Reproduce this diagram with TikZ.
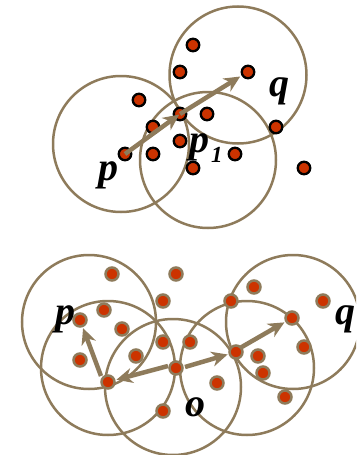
\documentclass[tikz,border=0pt]{standalone}
\usepackage{fontspec}
\setmainfont{Liberation Serif}
\usetikzlibrary{arrows.meta}
\definecolor{ring}{HTML}{8E7B5B}
\definecolor{dotred}{HTML}{CC3300}
\tikzset{
  ring/.style={draw=ring, line width=2.5pt},
  tdot/.style={circle, fill=dotred, draw=black, line width=2.3pt, inner sep=0pt, minimum size=12.5pt},
  bdot/.style={circle, fill=dotred, draw=ring, line width=2.5pt, inner sep=0pt, minimum size=13pt},
  link/.style={draw=ring, line width=4.5pt, -{Stealth[length=16pt,width=15pt,inset=5pt]}, shorten >=1pt},
  lbl/.style={font=\fontsize{40}{40}\selectfont\bfseries\itshape, inner sep=0pt}
}
\begin{document}
\begin{tikzpicture}[x=1pt,y=-1pt]
\useasboundingbox (0,0) rectangle (356,455);
\clip (0,0) rectangle (356,455);
% top circles
\draw[ring] (121,144) circle (68);
\draw[ring] (208,160) circle (68);
\draw[ring] (238,75) circle (68.5);
% top points
\node[tdot] (t1) at (193,45) {};
\node[tdot] (t2) at (180,72) {};
\node[tdot] (tq) at (248,72) {};
\node[tdot] (t4) at (139,100) {};
\node[tdot] (tp1) at (180,114) {};
\node[tdot] (t6) at (207,114) {};
\node[tdot] (t7) at (153,127) {};
\node[tdot] (t8) at (276,127) {};
\node[tdot] (t9) at (180,141) {};
\node[tdot] (tp) at (125,154) {};
\node[tdot] (t11) at (153,154) {};
\node[tdot] (t12) at (235,154) {};
\node[tdot] (t13) at (193,168) {};
\node[tdot] (t14) at (304,168) {};
\draw[link] (tp.center) -- (tp1.center);
\draw[link] (tp1.center) -- ([shift={(-7,4)}]tq.center);
\node[lbl] (lp) at (108,175) {p};
\node[lbl] (lq) at (279,91) {q};
\node[lbl, anchor=base west] (lp1) at (189,152) {p\hspace{2pt}\raisebox{-10pt}{\fontsize{23}{23}\selectfont 1}};
% bottom circles
\draw[ring] (89,322) circle (67);
\draw[ring] (108,368) circle (67);
\draw[ring] (173,387) circle (68);
\draw[ring] (247,368) circle (67);
\draw[ring] (293,322) circle (67);
% bottom points
\node[bdot] (b1) at (112,274) {};
\node[bdot] (b2) at (176,274) {};
\node[bdot] (b3) at (104,310) {};
\node[bdot] (b4) at (163,301) {};
\node[bdot] (bp) at (80,320) {};
\node[bdot] (b6) at (122,329) {};
\node[bdot] (b7) at (163,342) {};
\node[bdot] (b8) at (190,342) {};
\node[bdot] (b9) at (136,356) {};
\node[bdot] (b10) at (80,360) {};
\node[bdot] (bo) at (176,368) {};
\node[bdot] (bl) at (108,382) {};
\node[bdot] (b13) at (163,411) {};
\node[bdot] (b14) at (217,383) {};
\node[bdot] (br) at (236,352) {};
\node[bdot] (b16) at (231,301) {};
\node[bdot] (b17) at (254,287) {};
\node[bdot] (b18) at (323,301) {};
\node[bdot] (bq) at (292,318) {};
\node[bdot] (b20) at (304,347) {};
\node[bdot] (b21) at (258,356) {};
\node[bdot] (b22) at (263,373) {};
\node[bdot] (b23) at (285,397) {};
\draw[link] ([shift={(-7,-6)}]bl.center) -- (bp);
\draw[link] ([shift={(-8,-2)}]bo.center) -- (bl);
\draw[link] ([shift={(9,-1)}]bo.center) -- (br);
\draw[link] ([shift={(4,-4)}]br.center) -- (bq);
\node[lbl] (blp) at (65,319) {p};
\node[lbl] (blq) at (345,319) {q};
\node[lbl] (blo) at (195,407) {o};
\end{tikzpicture}
\end{document}
